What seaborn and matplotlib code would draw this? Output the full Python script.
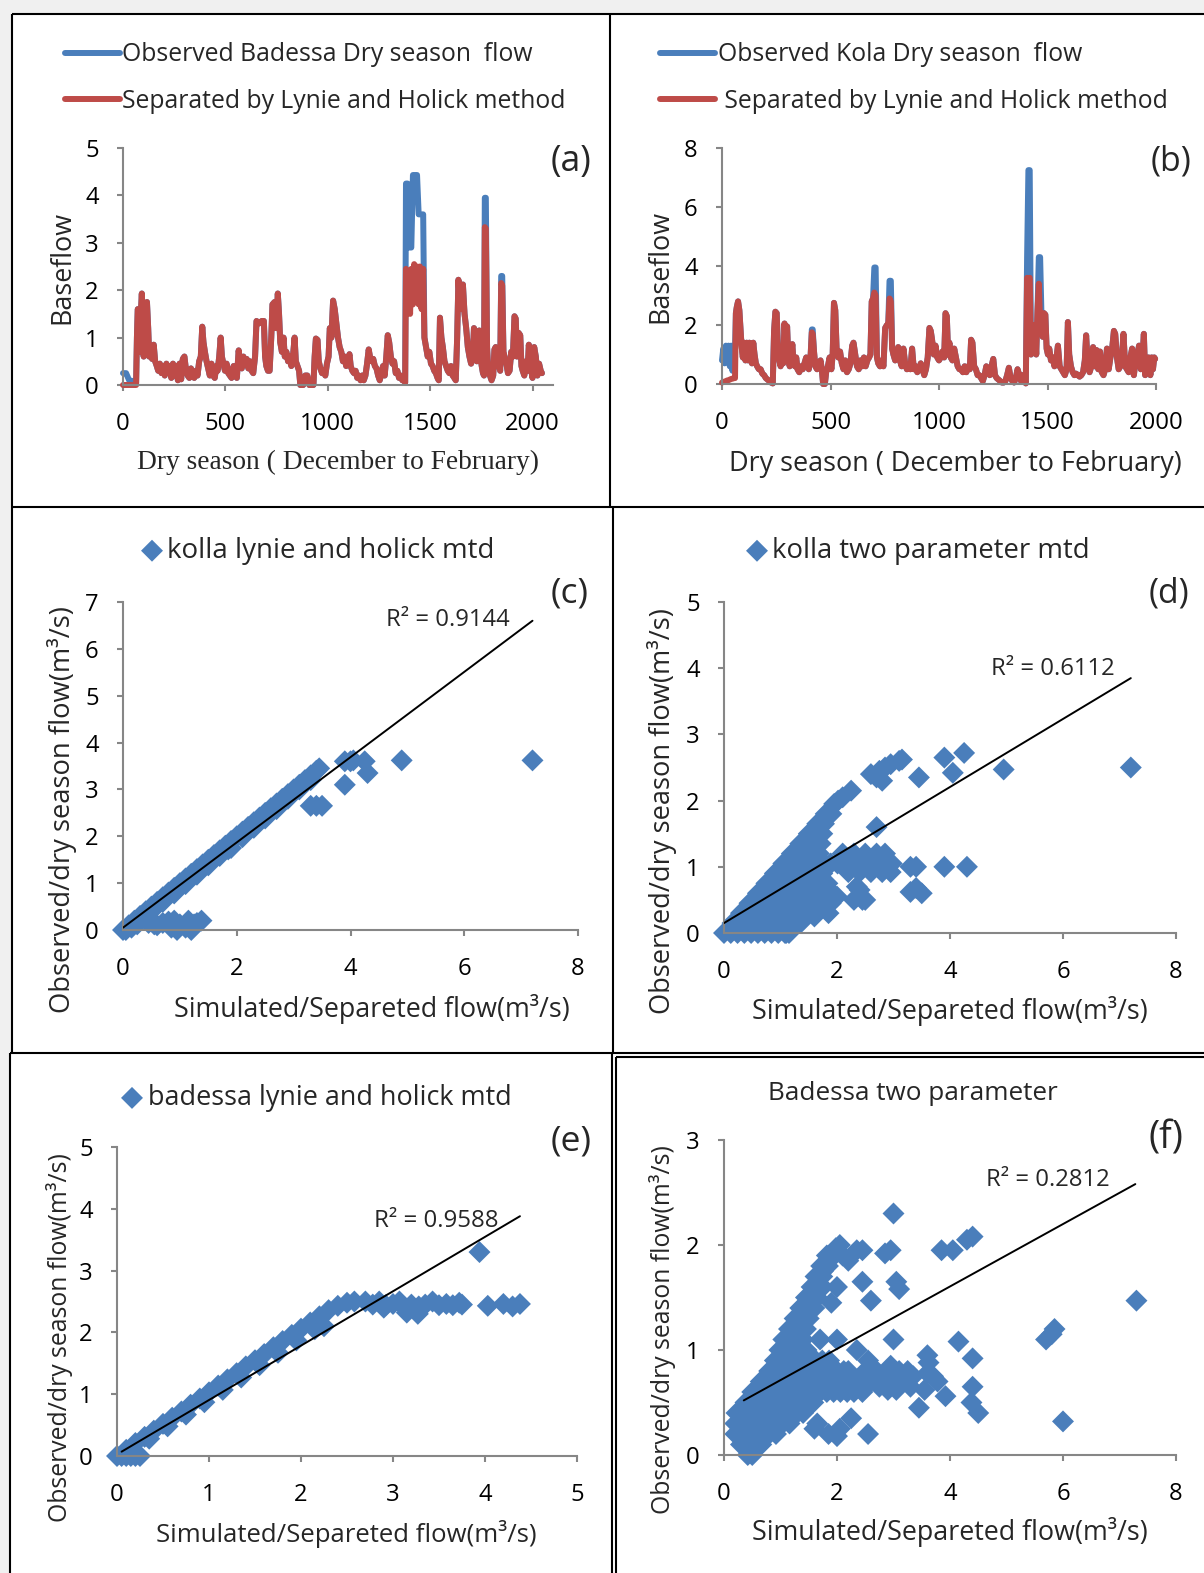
import matplotlib
matplotlib.use("Agg")
import matplotlib.pyplot as plt
import seaborn as sns
from matplotlib.lines import Line2D
from matplotlib.patches import Rectangle
from matplotlib.textpath import TextPath
from matplotlib.font_manager import FontProperties

W, H, DPI = 1204, 1573, 100
SANS = "Open Sans"
SERIF = "Liberation Serif"
BLUE = "#4A7EBB"
RED = "#BE4B48"
AXIS_GREY = "#868686"

# ---------------- (a) Badessa dry season flow ----------------
badessa_day = [
    0, 15, 30, 50, 64, 68, 72, 78, 82, 87,
    92, 97, 101, 106, 111, 117, 123, 128, 135, 142,
    150, 157, 165, 172, 180, 188, 196, 204, 212, 220,
    228, 236, 244, 252, 260, 268, 276, 284, 292, 300,
    308, 316, 324, 332, 340, 348, 356, 364, 372, 380,
    387, 393, 400, 408, 416, 424, 432, 440, 448, 456,
    462, 470, 477, 483, 490, 498, 506, 514, 522, 530,
    540, 548, 556, 565, 572, 580, 588, 596, 604, 612,
    620, 628, 636, 645, 652, 665, 678, 688, 694, 700,
    708, 716, 724, 730, 740, 748, 756, 762, 768, 776,
    784, 790, 798, 806, 814, 822, 830, 838, 844, 852,
    860, 866, 880, 890, 900, 910, 930, 936, 942, 950,
    956, 964, 972, 980, 988, 996, 1004, 1010, 1018, 1026,
    1034, 1042, 1050, 1058, 1066, 1074, 1082, 1090, 1098, 1106,
    1112, 1120, 1128, 1136, 1144, 1152, 1160, 1168, 1176, 1184,
    1192, 1200, 1206, 1214, 1222, 1230, 1238, 1246, 1254, 1262,
    1270, 1278, 1286, 1293, 1300, 1308, 1316, 1324, 1332, 1340,
    1348, 1356, 1364, 1372, 1378, 1382, 1390, 1396, 1402, 1408,
    1416, 1422, 1430, 1436, 1444, 1450, 1458, 1466, 1472, 1480,
    1488, 1496, 1504, 1512, 1520, 1528, 1536, 1542, 1548, 1555,
    1562, 1570, 1578, 1586, 1594, 1602, 1610, 1618, 1625, 1632,
    1638, 1646, 1653, 1660, 1668, 1676, 1684, 1692, 1700, 1708,
    1714, 1720, 1728, 1734, 1740, 1746, 1752, 1758, 1763, 1767,
    1772, 1778, 1784, 1792, 1800, 1808, 1814, 1820, 1828, 1836,
    1842, 1847, 1852, 1858, 1866, 1874, 1880, 1888, 1896, 1904,
    1912, 1918, 1924, 1932, 1940, 1946, 1952, 1960, 1968, 1976,
    1982, 1988, 1994, 2000, 2008, 2016, 2024, 2032, 2040, 2046,
]
badessa_separated = [
    0.0, 0.0, 0.0, 0.0, 0.0, 1.0, 1.6, 1.55, 0.7, 1.5,
    1.93, 1.2, 0.6, 1.7, 0.7, 1.75, 1.2, 0.6, 0.65, 0.55,
    0.85, 0.5, 0.4, 0.3, 0.45, 0.25, 0.4, 0.2, 0.45, 0.25,
    0.4, 0.15, 0.45, 0.2, 0.4, 0.1, 0.45, 0.12, 0.55, 0.6,
    0.3, 0.2, 0.15, 0.35, 0.2, 0.15, 0.3, 0.2, 0.5, 0.6,
    1.23, 0.9, 0.7, 0.5, 0.35, 0.2, 0.45, 0.2, 0.15, 0.4,
    0.3, 0.6, 1.0, 0.6, 0.45, 0.3, 0.45, 0.25, 0.2, 0.15,
    0.4, 0.2, 0.15, 0.73, 0.45, 0.35, 0.6, 0.45, 0.55, 0.35,
    0.5, 0.3, 0.25, 0.6, 1.35, 1.3, 1.35, 1.35, 0.6, 0.4,
    0.3, 0.3, 1.0, 1.7, 1.75, 1.2, 1.93, 1.5, 0.9, 0.7,
    1.0, 0.6, 0.7, 0.5, 0.6, 0.4, 0.6, 1.0, 0.5, 0.4,
    0.3, 0.0, 0.0, 0.2, 0.2, 0.0, 0.0, 0.6, 0.98, 0.95,
    0.5, 0.35, 0.25, 0.3, 0.2, 0.45, 0.6, 1.2, 1.0, 1.78,
    1.6, 1.3, 1.0, 0.8, 0.7, 0.5, 0.6, 0.4, 0.5, 0.65,
    0.4, 0.3, 0.25, 0.3, 0.15, 0.2, 0.1, 0.2, 0.1, 0.2,
    0.45, 0.75, 0.6, 0.5, 0.55, 0.4, 0.35, 0.2, 0.1, 0.25,
    0.4, 0.2, 0.6, 1.05, 0.9, 0.6, 0.45, 0.5, 0.25, 0.3,
    0.15, 0.2, 0.1, 0.15, 0.05, 2.45, 1.6, 2.4, 1.5, 2.45,
    1.7, 2.55, 1.8, 2.5, 1.7, 2.5, 1.6, 2.45, 1.0, 0.8,
    0.6, 0.7, 0.45, 0.4, 0.3, 0.25, 0.15, 0.1, 1.42, 1.0,
    0.8, 0.5, 0.4, 0.3, 0.25, 0.4, 0.2, 0.15, 0.1, 1.0,
    2.22, 1.7, 1.6, 2.12, 1.5, 1.2, 0.8, 0.6, 0.45, 0.6,
    1.2, 1.1, 0.5, 0.7, 1.15, 0.6, 0.4, 0.25, 0.2, 3.33,
    3.3, 0.8, 0.3, 0.2, 0.1, 0.2, 0.75, 0.8, 0.6, 0.4,
    0.3, 2.15, 2.1, 0.7, 0.55, 0.4, 0.25, 0.3, 0.7, 0.6,
    1.45, 1.4, 0.6, 1.1, 1.05, 0.4, 0.3, 0.2, 0.5, 0.3,
    0.85, 0.5, 0.3, 0.15, 0.8, 0.6, 0.2, 0.45, 0.3, 0.25,
]
badessa_observed = [
    0.25, 0.25, 0.1, 0.08, 0.05, 1.0, 1.6, 1.55, 0.7, 1.5,
    1.93, 1.2, 0.6, 1.7, 0.7, 1.75, 1.2, 0.6, 0.65, 0.55,
    0.85, 0.5, 0.4, 0.3, 0.45, 0.25, 0.4, 0.2, 0.45, 0.25,
    0.4, 0.15, 0.45, 0.2, 0.4, 0.1, 0.45, 0.12, 0.55, 0.6,
    0.3, 0.2, 0.15, 0.35, 0.2, 0.15, 0.3, 0.2, 0.5, 0.6,
    1.23, 0.9, 0.7, 0.5, 0.35, 0.2, 0.45, 0.2, 0.15, 0.4,
    0.3, 0.6, 1.0, 0.6, 0.45, 0.3, 0.45, 0.25, 0.2, 0.15,
    0.4, 0.2, 0.15, 0.73, 0.45, 0.35, 0.6, 0.45, 0.55, 0.35,
    0.5, 0.3, 0.25, 0.6, 1.35, 1.3, 1.35, 1.35, 0.6, 0.4,
    0.3, 0.3, 1.0, 1.7, 1.75, 1.2, 1.93, 1.5, 0.9, 0.7,
    1.0, 0.6, 0.7, 0.5, 0.6, 0.4, 0.6, 1.0, 0.5, 0.4,
    0.3, 0.0, 0.0, 0.2, 0.2, 0.0, 0.0, 0.6, 0.98, 0.95,
    0.5, 0.35, 0.25, 0.3, 0.2, 0.45, 0.6, 1.2, 1.0, 1.78,
    1.6, 1.3, 1.0, 0.8, 0.7, 0.5, 0.6, 0.4, 0.5, 0.65,
    0.4, 0.3, 0.25, 0.3, 0.15, 0.2, 0.1, 0.2, 0.1, 0.2,
    0.45, 0.75, 0.6, 0.5, 0.55, 0.4, 0.35, 0.2, 0.1, 0.25,
    0.4, 0.2, 0.6, 1.05, 0.9, 0.6, 0.45, 0.5, 0.25, 0.3,
    0.15, 0.2, 0.1, 0.15, 0.05, 4.25, 4.25, 2.9, 2.9, 2.9,
    4.43, 4.43, 4.43, 4.43, 3.6, 3.6, 3.6, 3.6, 1.0, 0.8,
    0.6, 0.7, 0.45, 0.4, 0.3, 0.25, 0.15, 0.1, 1.42, 1.0,
    0.8, 0.5, 0.4, 0.3, 0.25, 0.4, 0.2, 0.15, 0.1, 1.0,
    2.22, 1.7, 1.6, 2.12, 1.5, 1.2, 0.8, 0.6, 0.45, 0.6,
    1.2, 1.1, 0.5, 0.7, 1.15, 0.6, 0.4, 0.25, 0.2, 3.95,
    3.95, 0.8, 0.3, 0.2, 0.1, 0.2, 0.75, 0.8, 0.6, 0.4,
    0.3, 2.3, 2.3, 0.7, 0.55, 0.4, 0.25, 0.3, 0.7, 0.6,
    1.45, 1.4, 0.6, 1.1, 1.05, 0.4, 0.3, 0.2, 0.5, 0.3,
    0.85, 0.5, 0.3, 0.15, 0.8, 0.6, 0.2, 0.45, 0.3, 0.25,
]

# ---------------- (b) Kola dry season flow ----------------
kola_day = [
    0, 6, 12, 18, 24, 30, 36, 42, 48, 54,
    60, 64, 68, 74, 80, 86, 90, 96, 102, 108,
    114, 120, 126, 132, 138, 144, 150, 156, 162, 170,
    178, 186, 194, 202, 210, 218, 226, 234, 240, 246,
    252, 258, 264, 270, 276, 282, 288, 294, 300, 306,
    312, 318, 324, 330, 336, 342, 348, 356, 364, 372,
    380, 388, 394, 400, 408, 414, 418, 424, 430, 438,
    446, 454, 460, 466, 474, 480, 488, 496, 504, 510,
    516, 522, 528, 536, 544, 552, 560, 568, 576, 584,
    592, 600, 606, 614, 622, 630, 638, 646, 654, 662,
    670, 678, 684, 690, 696, 702, 708, 714, 720, 728,
    736, 744, 752, 760, 766, 772, 778, 784, 790, 798,
    806, 812, 820, 828, 836, 844, 852, 860, 868, 876,
    884, 892, 900, 908, 916, 924, 932, 940, 948, 956,
    962, 968, 976, 984, 992, 1000, 1008, 1016, 1024, 1030,
    1036, 1042, 1048, 1054, 1062, 1070, 1078, 1086, 1094, 1102,
    1110, 1118, 1126, 1134, 1142, 1148, 1154, 1162, 1170, 1178,
    1186, 1194, 1202, 1210, 1218, 1226, 1234, 1242, 1250, 1258,
    1266, 1274, 1282, 1290, 1298, 1306, 1314, 1322, 1330, 1338,
    1346, 1354, 1362, 1370, 1378, 1386, 1394, 1400, 1406, 1412,
    1418, 1424, 1430, 1436, 1442, 1448, 1454, 1460, 1466, 1472,
    1478, 1484, 1490, 1496, 1502, 1508, 1516, 1524, 1532, 1540,
    1548, 1556, 1564, 1572, 1580, 1588, 1594, 1600, 1608, 1616,
    1624, 1632, 1640, 1648, 1656, 1664, 1672, 1678, 1686, 1694,
    1702, 1710, 1718, 1726, 1734, 1742, 1750, 1758, 1766, 1774,
    1782, 1790, 1798, 1806, 1812, 1820, 1828, 1836, 1844, 1850,
    1858, 1866, 1874, 1882, 1890, 1898, 1906, 1914, 1922, 1930,
    1938, 1944, 1950, 1958, 1966, 1974, 1980, 1986, 1992, 1996,
]
kola_separated = [
    0.05, 0.07, 0.08, 0.1, 0.12, 0.13, 0.15, 0.17, 0.18, 0.2,
    0.2, 2.4, 2.6, 2.8, 2.5, 1.8, 1.3, 0.9, 1.4, 0.8,
    1.4, 0.8, 1.4, 0.9, 0.7, 1.4, 1.0, 0.7, 0.6, 0.5,
    0.5, 0.35, 0.3, 0.2, 0.15, 0.1, 0.05, 0.02, 1.8, 2.45,
    2.4, 1.2, 0.8, 0.6, 1.0, 0.7, 2.05, 1.2, 1.95, 0.8,
    0.6, 0.9, 1.35, 0.7, 0.6, 0.9, 0.5, 0.4, 0.6, 0.5,
    0.7, 0.9, 0.6, 0.5, 0.9, 1.75, 1.7, 1.1, 0.6, 0.5,
    0.6, 0.8, 0.5, 0.0, 0.0, 0.4, 0.6, 0.9, 0.5, 1.0,
    2.75, 2.5, 1.2, 0.9, 1.1, 0.7, 0.5, 0.8, 0.4, 0.5,
    0.7, 1.3, 1.4, 1.0, 0.6, 0.5, 0.8, 0.6, 0.9, 0.6,
    0.8, 0.9, 1.0, 2.8, 2.9, 3.1, 3.0, 0.9, 0.7, 0.6,
    0.8, 0.6, 1.9, 2.0, 2.0, 2.9, 2.8, 1.2, 1.0, 0.8,
    0.9, 1.25, 0.8, 0.6, 1.2, 0.7, 0.5, 0.6, 0.5, 1.2,
    0.5, 0.6, 0.4, 0.5, 0.7, 0.5, 0.3, 0.5, 0.9, 1.9,
    1.8, 1.5, 1.0, 1.3, 0.9, 0.8, 0.9, 1.1, 0.9, 2.4,
    2.3, 1.0, 1.4, 0.9, 0.8, 1.2, 0.9, 0.6, 0.5, 0.5,
    0.4, 0.6, 0.4, 0.6, 0.5, 1.5, 1.4, 0.6, 0.5, 0.3,
    0.3, 0.2, 0.1, 0.3, 0.6, 0.4, 0.3, 0.6, 0.85, 0.3,
    0.2, 0.15, 0.1, 0.05, 0.05, 0.1, 0.3, 0.55, 0.2, 0.1,
    0.05, 0.2, 0.5, 0.3, 0.1, 0.3, 0.1, 0.02, 3.6, 3.5,
    3.6, 1.0, 1.5, 1.2, 2.0, 1.0, 2.5, 3.4, 2.0, 2.4,
    1.6, 2.4, 2.35, 1.2, 1.0, 1.2, 0.8, 0.9, 0.6, 0.8,
    1.3, 0.6, 0.5, 0.4, 0.3, 0.5, 2.1, 1.0, 0.6, 0.4,
    0.3, 0.35, 0.3, 0.25, 0.3, 0.4, 0.8, 1.65, 0.6, 0.4,
    0.6, 1.25, 0.6, 1.15, 0.5, 1.1, 0.4, 0.3, 0.5, 1.2,
    0.5, 0.9, 1.2, 1.8, 1.7, 0.9, 0.5, 0.6, 1.0, 1.7,
    0.6, 0.5, 0.4, 0.9, 1.2, 0.3, 0.8, 1.0, 1.3, 0.5,
    0.9, 1.7, 0.3, 0.5, 0.9, 0.3, 0.9, 0.5, 0.9, 0.85,
]
kola_observed = [
    0.8, 1.2, 0.7, 1.3, 0.9, 1.3, 0.6, 1.3, 0.45, 1.2,
    1.2, 2.4, 2.6, 2.8, 2.5, 1.8, 1.3, 0.9, 1.4, 0.8,
    1.4, 0.8, 1.4, 0.9, 0.7, 1.4, 1.0, 0.7, 0.6, 0.5,
    0.5, 0.35, 0.3, 0.2, 0.15, 0.1, 0.05, 0.02, 1.8, 2.45,
    2.4, 1.2, 0.8, 0.6, 1.0, 0.7, 2.05, 1.2, 1.95, 0.8,
    0.6, 0.9, 1.35, 0.7, 0.6, 0.9, 0.5, 0.4, 0.6, 0.5,
    0.7, 0.9, 0.6, 0.5, 0.9, 1.85, 1.85, 1.1, 0.6, 0.5,
    0.6, 0.8, 0.5, 0.0, 0.0, 0.4, 0.6, 0.9, 0.5, 1.0,
    2.75, 2.5, 1.2, 0.9, 1.1, 0.7, 0.5, 0.8, 0.4, 0.5,
    0.7, 1.3, 1.4, 1.0, 0.6, 0.5, 0.8, 0.6, 0.9, 0.6,
    0.8, 0.9, 1.0, 2.8, 2.9, 3.95, 3.95, 0.9, 0.7, 0.6,
    0.8, 0.6, 1.9, 2.0, 2.0, 3.5, 3.5, 1.2, 1.0, 0.8,
    0.9, 1.25, 0.8, 0.6, 1.2, 0.7, 0.5, 0.6, 0.5, 1.2,
    0.5, 0.6, 0.4, 0.5, 0.7, 0.5, 0.3, 0.5, 0.9, 1.9,
    1.8, 1.5, 1.0, 1.3, 0.9, 0.8, 0.9, 1.1, 0.9, 2.4,
    2.3, 1.0, 1.4, 0.9, 0.8, 1.2, 0.9, 0.6, 0.5, 0.5,
    0.4, 0.6, 0.4, 0.6, 0.5, 1.5, 1.4, 0.6, 0.5, 0.3,
    0.3, 0.2, 0.1, 0.3, 0.6, 0.4, 0.3, 0.6, 0.85, 0.3,
    0.2, 0.15, 0.1, 0.05, 0.05, 0.1, 0.3, 0.55, 0.2, 0.1,
    0.05, 0.2, 0.5, 0.3, 0.1, 0.3, 0.1, 0.02, 4.3, 7.25,
    7.25, 1.0, 1.5, 1.2, 2.0, 1.0, 2.5, 4.3, 4.3, 2.4,
    1.6, 2.4, 2.35, 1.2, 1.0, 1.2, 0.8, 0.9, 0.6, 0.8,
    1.3, 0.6, 0.5, 0.4, 0.3, 0.5, 2.1, 1.0, 0.6, 0.4,
    0.3, 0.35, 0.3, 0.25, 0.3, 0.4, 0.8, 1.65, 0.6, 0.4,
    0.6, 1.25, 0.6, 1.15, 0.5, 1.1, 0.4, 0.3, 0.5, 1.2,
    0.5, 0.9, 1.2, 1.8, 1.7, 0.9, 0.5, 0.6, 1.0, 1.7,
    0.6, 0.5, 0.4, 0.9, 1.2, 0.3, 0.8, 1.0, 1.3, 0.5,
    0.9, 1.7, 0.3, 0.5, 0.9, 0.3, 0.9, 0.5, 0.9, 0.85,
]

# ---------------- (c) kolla, Lynie and Holick ----------------
kolla_lh_x = [
    0.0, 0.1, 0.2, 0.3, 0.4, 0.5, 0.6, 0.7, 0.8, 0.9, 1.0, 1.1,
    1.2, 1.3, 1.4, 1.5, 1.6, 1.7, 1.8, 1.9, 2.0, 2.1, 2.2, 2.3,
    2.4, 2.5, 2.6, 2.7, 2.8, 2.9, 3.0, 3.1, 3.2, 3.3, 3.4, 3.45,
    0.5, 0.7, 0.9, 1.1, 1.3, 1.5, 1.7, 1.85, 1.9, 2.1, 2.3, 2.5,
    2.7, 2.9, 3.1, 3.3,
    0.05, 0.15, 0.25,
    0.45, 0.55, 0.6, 0.7, 0.8, 0.85, 0.9, 0.95, 1.0, 1.1, 1.15, 1.2,
    1.25, 1.3, 1.38,
    3.3, 3.4, 3.5, 3.9, 3.9, 4.0, 4.05, 4.25, 4.3, 4.9, 7.2,
]
kolla_lh_y = [
    0.0, 0.1, 0.2, 0.3, 0.4, 0.5, 0.6, 0.7, 0.8, 0.9, 1.0, 1.1,
    1.2, 1.3, 1.4, 1.5, 1.6, 1.7, 1.8, 1.9, 2.0, 2.1, 2.2, 2.3,
    2.4, 2.5, 2.6, 2.7, 2.8, 2.9, 3.0, 3.1, 3.2, 3.3, 3.4, 3.45,
    0.4, 0.6, 0.78, 0.98, 1.18, 1.38, 1.58, 1.72, 1.75, 1.98, 2.18, 2.38,
    2.58, 2.8, 3.0, 3.2,
    0.0, 0.05, 0.12,
    0.15, 0.12, 0.1, 0.15, 0.18, 0.05, 0.2, 0.0, 0.12, 0.05, 0.2, 0.0,
    0.12, 0.15, 0.2,
    2.65, 2.65, 2.65, 3.1, 3.6, 3.6, 3.62, 3.6, 3.35, 3.62, 3.62,
]
kolla_lh_trend_x = [0.0, 7.2]
kolla_lh_trend_y = [0.05, 6.6]

# ---------------- (d) kolla, two parameter ----------------
kolla_tp_x = [
    0.0, 0.12, 0.24, 0.36, 0.48, 0.6, 0.72, 0.84, 0.96, 1.08, 1.15,
    0.15, 0.27, 0.39, 0.51, 0.63, 0.75, 0.87, 0.99, 1.11, 1.23, 1.35,
    0.3, 0.42, 0.54, 0.66, 0.78, 0.9, 1.02, 1.14, 1.26, 1.38, 1.5, 1.6,
    0.45, 0.57, 0.69, 0.81, 0.93, 1.05, 1.17, 1.29, 1.41, 1.53, 1.65, 1.77, 1.89,
    0.6, 0.72, 0.84, 0.96, 1.08, 1.2, 1.32, 1.44, 1.56, 1.68, 1.8, 1.92,
    0.75, 0.87, 0.99, 1.11, 1.23, 1.35, 1.47, 1.59, 1.71, 1.83,
    0.9, 1.02, 1.14, 1.26, 1.38, 1.5, 1.62, 1.74,
    1.05, 1.17, 1.29, 1.41, 1.53, 1.65, 1.77, 1.89, 2.01, 2.13, 2.25, 2.37,
    2.49, 2.61, 2.73, 2.85, 2.97,
    1.2, 1.32, 1.44, 1.56, 1.68, 2.1, 2.3, 2.5, 2.7, 2.85,
    1.35, 1.47, 1.59, 1.71,
    1.5, 1.62, 1.74,
    1.65, 1.77,
    1.8, 1.9,
    1.95, 2.02,
    2.2, 2.4, 2.6, 2.8, 2.95,
    2.0, 2.3, 2.45, 2.4,
    2.1, 2.25, 2.6, 2.7, 2.75, 2.8, 2.85, 2.95, 3.1, 3.15, 3.45, 3.9, 4.05,
    4.25, 4.95, 7.2, 2.7, 3.3, 3.4, 3.9, 4.3, 3.3, 3.4, 3.5, 1.6, 1.85,
    1.1, 0.85, 2.5, 2.35,
]
kolla_tp_y = [
    0.0, 0.0, 0.0, 0.0, 0.0, 0.0, 0.0, 0.0, 0.0, 0.0, 0.0,
    0.15, 0.15, 0.15, 0.15, 0.15, 0.15, 0.15, 0.15, 0.15, 0.15, 0.15,
    0.3, 0.3, 0.3, 0.3, 0.3, 0.3, 0.3, 0.3, 0.3, 0.3, 0.3, 0.3,
    0.45, 0.45, 0.45, 0.45, 0.45, 0.45, 0.45, 0.45, 0.45, 0.45, 0.45, 0.45, 0.45,
    0.6, 0.6, 0.6, 0.6, 0.6, 0.6, 0.6, 0.6, 0.6, 0.6, 0.6, 0.6,
    0.75, 0.75, 0.75, 0.75, 0.75, 0.75, 0.75, 0.75, 0.75, 0.75,
    0.9, 0.9, 0.9, 0.9, 0.9, 0.9, 0.9, 0.9,
    1.05, 1.05, 1.05, 1.05, 1.05, 1.05, 1.05, 1.05, 1.05, 1.05, 1.05, 1.05,
    1.05, 1.05, 1.05, 1.05, 1.05,
    1.2, 1.2, 1.2, 1.2, 1.2, 1.2, 1.2, 1.2, 1.2, 1.2,
    1.35, 1.35, 1.35, 1.35,
    1.5, 1.5, 1.5,
    1.65, 1.65,
    1.8, 1.8,
    1.95, 2.0,
    0.92, 0.92, 0.92, 0.92, 0.92,
    0.55, 0.5, 0.5, 0.65,
    2.05, 2.15, 2.4, 2.35, 2.45, 2.3, 2.5, 2.55, 2.6, 2.62, 2.35, 2.65, 2.42,
    2.72, 2.47, 2.5, 1.6, 1.0, 1.0, 1.0, 1.0, 0.62, 0.68, 0.6, 0.25, 0.3,
    0.0, 0.05, 0.5, 0.7,
]
kolla_tp_trend_x = [0.0, 7.2]
kolla_tp_trend_y = [0.15, 3.85]

# ---------------- (e) badessa, Lynie and Holick ----------------
badessa_lh_x = [
    0.0, 0.1, 0.2, 0.3, 0.4, 0.5, 0.6, 0.7, 0.8, 0.9, 1.0, 1.1,
    1.2, 1.3, 1.4, 1.5, 1.6, 1.7, 1.8, 1.9, 2.0, 2.1, 2.2, 2.3,
    0.15, 0.35, 0.55, 0.75, 0.95, 1.15, 1.35, 1.55, 1.75, 1.95, 2.15, 2.25,
    0.05, 0.1, 0.15, 0.2, 0.25, 0.08,
    2.4, 2.5, 2.58, 2.7, 2.78, 2.85, 2.92, 3.0, 3.07, 3.13, 3.2, 3.28,
    3.35, 3.43, 3.5, 3.58, 3.65, 3.72, 3.75, 3.15, 3.27, 2.9,
    3.94, 4.03, 4.2, 4.38, 4.3,
]
badessa_lh_y = [
    0.0, 0.1, 0.21, 0.31, 0.41, 0.52, 0.62, 0.72, 0.83, 0.93, 1.03, 1.14,
    1.24, 1.34, 1.45, 1.55, 1.65, 1.76, 1.86, 1.96, 2.06, 2.16, 2.26, 2.36,
    0.08, 0.28, 0.48, 0.67, 0.87, 1.07, 1.27, 1.47, 1.67, 1.87, 2.05, 2.1,
    0.0, 0.0, 0.0, 0.0, 0.0, 0.05,
    2.43, 2.48, 2.5, 2.5, 2.45, 2.5, 2.44, 2.46, 2.5, 2.4, 2.45, 2.42,
    2.45, 2.5, 2.44, 2.46, 2.44, 2.48, 2.45, 2.32, 2.3, 2.4,
    3.3, 2.43, 2.46, 2.46, 2.42,
]
badessa_lh_trend_x = [0.05, 4.38]
badessa_lh_trend_y = [0.07, 3.88]

# ---------------- (f) badessa, two parameter ----------------
badessa_tp_x = [
    0.42, 0.5,
    0.3, 0.42, 0.54, 0.66,
    0.2, 0.32, 0.44, 0.56, 0.68, 0.8, 0.92,
    0.2, 0.32, 0.44, 0.56, 0.68, 0.8, 0.92, 1.04, 1.16,
    0.22, 0.34, 0.46, 0.58, 0.7, 0.82, 0.94, 1.06, 1.18, 1.3, 1.4,
    0.38, 0.5, 0.62, 0.74, 0.86, 0.98, 1.1, 1.22, 1.34, 1.46, 1.58,
    0.5, 0.62, 0.74, 0.86, 0.98, 1.1, 1.22, 1.34, 1.46, 1.58, 1.7, 1.82,
    1.94, 2.06, 2.18, 2.3,
    0.65, 0.77, 0.89, 1.01, 1.13, 1.25, 1.37, 1.49, 1.61, 1.73, 1.85, 1.97,
    2.09, 2.21, 2.33,
    0.8, 0.92, 1.04, 1.16, 1.28, 1.4, 1.52, 1.64, 1.76, 1.88, 2.0, 2.12, 2.2,
    0.9, 1.02, 1.14, 1.26, 1.38, 1.5, 1.62, 1.74, 1.86,
    0.98, 1.1, 1.22, 1.34, 1.46,
    1.05, 1.17, 1.29, 1.4,
    1.15, 1.27, 1.39, 1.45,
    1.25, 1.37, 1.5,
    1.35, 1.47, 1.6,
    1.45, 1.57, 1.65,
    1.55, 1.67, 1.75,
    1.62, 1.74,
    1.72, 1.84,
    1.82, 1.95,
    1.98, 2.05,
    2.45, 2.5, 2.55, 2.6, 2.7, 2.75, 2.85, 2.9, 2.95, 3.0, 3.05, 3.1,
    3.2, 3.25, 3.3, 3.35,
    3.0, 1.75, 2.1, 2.2, 2.35, 2.45, 2.85, 2.95, 3.05, 3.1, 2.45, 2.6,
    1.9, 2.0, 3.85, 4.05, 4.3, 4.4, 7.3, 5.7, 5.8, 5.85, 6.0, 4.15,
    4.4, 3.6, 3.62, 2.0, 1.7, 2.35, 3.0, 3.92, 4.4, 4.38, 4.5, 3.45,
    2.55, 1.65, 1.85, 2.05, 2.25, 3.55, 3.7, 3.78, 3.6, 1.6, 2.0,
]
badessa_tp_y = [
    0.0, 0.0,
    0.1, 0.1, 0.1, 0.1,
    0.2, 0.2, 0.2, 0.2, 0.2, 0.2, 0.2,
    0.3, 0.3, 0.3, 0.3, 0.3, 0.3, 0.3, 0.3, 0.3,
    0.4, 0.4, 0.4, 0.4, 0.4, 0.4, 0.4, 0.4, 0.4, 0.4, 0.4,
    0.5, 0.5, 0.5, 0.5, 0.5, 0.5, 0.5, 0.5, 0.5, 0.5, 0.5,
    0.6, 0.6, 0.6, 0.6, 0.6, 0.6, 0.6, 0.6, 0.6, 0.6, 0.6, 0.6,
    0.6, 0.6, 0.6, 0.6,
    0.7, 0.7, 0.7, 0.7, 0.7, 0.7, 0.7, 0.7, 0.7, 0.7, 0.7, 0.7,
    0.7, 0.7, 0.7,
    0.8, 0.8, 0.8, 0.8, 0.8, 0.8, 0.8, 0.8, 0.8, 0.8, 0.8, 0.8, 0.8,
    0.9, 0.9, 0.9, 0.9, 0.9, 0.9, 0.9, 0.9, 0.9,
    1.0, 1.0, 1.0, 1.0, 1.0,
    1.1, 1.1, 1.1, 1.1,
    1.2, 1.2, 1.2, 1.2,
    1.3, 1.3, 1.3,
    1.4, 1.4, 1.4,
    1.5, 1.5, 1.5,
    1.6, 1.6, 1.6,
    1.7, 1.7,
    1.8, 1.8,
    1.9, 1.9,
    1.97, 2.0,
    0.6, 0.8, 0.9, 0.7, 0.8, 0.65, 0.75, 0.62, 0.85, 0.7, 0.62, 0.8,
    0.72, 0.8, 0.65, 0.75,
    2.3, 1.75, 1.9, 1.85, 1.95, 1.95, 1.92, 1.95, 1.65, 1.58, 1.65, 1.47,
    1.45, 1.6, 1.95, 1.95, 2.05, 2.08, 1.47, 1.1, 1.15, 1.2, 0.32, 1.08,
    0.92, 0.95, 0.88, 1.1, 1.1, 1.0, 1.1, 0.56, 0.65, 0.5, 0.4, 0.45,
    0.2, 0.3, 0.2, 0.25, 0.35, 0.62, 0.75, 0.7, 0.78, 0.25, 0.18,
]
badessa_tp_trend_x = [0.35, 7.28]
badessa_tp_trend_y = [0.52, 2.58]


def fx(px):
    return px / W


def fy(py):
    return 1 - py / H


def fit_size(text, width_px, family=SANS):
    """font size (pt) that makes `text` about width_px wide"""
    w = TextPath((0, 0), text, size=10, prop=FontProperties(family=family)).get_extents().width
    return 10 * width_px / (w * DPI / 72)


def put_text(fig, text, cx, cy, width_px, rotation=0, family=SANS):
    # va="center" sits a few px high for horizontal text, nudge it down
    if rotation == 0:
        cy += 4
    fig.text(fx(cx), fy(cy), text, ha="center", va="center", rotation=rotation,
             fontsize=fit_size(text, width_px, family), family=[family, "DejaVu Sans"])


def place_axes(fig, left, right, top, bottom):
    return fig.add_axes([fx(left), fy(bottom), (right - left) / W, (bottom - top) / H])


def style_axes(ax, xlim, ylim, xticks, yticks):
    ax.set_xlim(*xlim)
    ax.set_ylim(*ylim)
    ax.set_xticks(xticks)
    ax.set_yticks(yticks)
    ax.set_xlabel("")
    ax.set_ylabel("")
    ax.set_facecolor("none")
    sns.despine(ax=ax)
    for side in ("left", "bottom"):
        ax.spines[side].set_color(AXIS_GREY)
        ax.spines[side].set_linewidth(1.5)
    ax.tick_params(direction="out", length=4.5, width=1.5, color=AXIS_GREY,
                   labelsize=TICK_FS, labelcolor="black", pad=13)
    ax.tick_params(axis="x", pad=15)


def frame_line(fig, x0, y0, x1, y1):
    fig.add_artist(Line2D([fx(x0), fx(x1)], [fy(y0), fy(y1)], transform=fig.transFigure,
                          color="black", lw=1.5, solid_capstyle="butt"))


def line_legend(ax, fig, handle_left, handle_right, text_left, cy, fs, pitch_px):
    fs_px = fs * DPI / 72
    ax.legend(loc="center left", bbox_to_anchor=(fx(handle_left), fy(cy)),
              bbox_transform=fig.transFigure, frameon=False, fontsize=fs,
              handlelength=(handle_right - handle_left) / fs_px,
              handletextpad=(text_left - handle_right) / fs_px,
              labelspacing=(pitch_px - 1.0 * fs_px) / fs_px,
              borderpad=0, borderaxespad=0)


def marker_legend(ax, fig, marker_cx, text_left, cy, fs):
    fs_px = fs * DPI / 72
    hl = 0.6
    ax.legend(loc="center left", bbox_to_anchor=(fx(marker_cx - hl * fs_px / 2), fy(cy)),
              bbox_transform=fig.transFigure, frameon=False, fontsize=fs,
              handlelength=hl, handletextpad=(text_left - marker_cx) / fs_px - hl / 2,
              borderpad=0, borderaxespad=0, scatterpoints=1)


def flow_panel(fig, box, day, observed, separated, obs_label, sep_label, xlim, ylim, yticks):
    ax = place_axes(fig, *box)
    line_kw = dict(linewidth=4.3, estimator=None, sort=False, clip_on=False,
                   solid_joinstyle="round", solid_capstyle="round")
    sns.lineplot(x=day, y=observed, color=BLUE, label=obs_label, ax=ax, **line_kw)
    sns.lineplot(x=day, y=separated, color=RED, label=sep_label, ax=ax, **line_kw)
    style_axes(ax, xlim, ylim, [0, 500, 1000, 1500, 2000], yticks)
    return ax


def scatter_panel(fig, box, x, y, trend_x, trend_y, xlim, ylim, xticks, yticks, label=None):
    ax = place_axes(fig, *box)
    sns.scatterplot(x=x, y=y, marker="D", s=125, color=BLUE, edgecolor="none", linewidth=0,
                    clip_on=False, label=label, ax=ax)
    ax.plot(trend_x, trend_y, color="black", lw=1.4, zorder=3)
    style_axes(ax, xlim, ylim, xticks, yticks)
    return ax


for arr in (badessa_separated, badessa_observed):
    assert len(arr) == len(badessa_day)
for arr in (kola_separated, kola_observed):
    assert len(arr) == len(kola_day)
assert len(kolla_lh_x) == len(kolla_lh_y)
assert len(kolla_tp_x) == len(kolla_tp_y)
assert len(badessa_lh_x) == len(badessa_lh_y)
assert len(badessa_tp_x) == len(badessa_tp_y)

sns.set_theme(style="ticks")
plt.rcParams["font.family"] = [SANS, "DejaVu Sans"]
TICK_FS = fit_size("2000", 52)

fig = plt.figure(figsize=(W / DPI, H / DPI), dpi=DPI, facecolor="#F0F0F0")
fig.add_artist(Rectangle((fx(11), 0), 1 - fx(11), fy(14), transform=fig.transFigure,
                         facecolor="white", edgecolor="none", zorder=-5))

# panel frames
frame_line(fig, 12, 14, 1204, 14)
frame_line(fig, 12, 14, 12, 1053)
frame_line(fig, 10, 1053, 10, 1573)
frame_line(fig, 610, 14, 610, 507)
frame_line(fig, 12, 507, 1204, 507)
frame_line(fig, 613, 507, 613, 1053)
frame_line(fig, 10, 1053, 1204, 1053)
frame_line(fig, 612, 1053, 612, 1573)
frame_line(fig, 616, 1057, 616, 1573)
frame_line(fig, 616, 1057, 1204, 1057)

leg_fs = fit_size("Separated by Lynie and Holick method", 441)

# (a)
ax = flow_panel(fig, (123, 553, 148, 385), badessa_day, badessa_observed, badessa_separated,
                "Observed Badessa Dry season  flow", "Separated by Lynie and Holick method",
                (0, 2100), (0, 5), [0, 1, 2, 3, 4, 5])
line_legend(ax, fig, 65, 120, 122, 78, leg_fs, 46)
put_text(fig, "Baseflow", 62, 267, 110, rotation=90)
put_text(fig, "Dry season ( December to February)", 338, 458, 399, family=SERIF)
put_text(fig, "(a)", 571, 158, 38)

# (b)
ax = flow_panel(fig, (722, 1156, 148, 384), kola_day, kola_observed, kola_separated,
                "Observed Kola Dry season  flow", " Separated by Lynie and Holick method",
                (0, 2000), (0, 8), [0, 2, 4, 6, 8])
line_legend(ax, fig, 660, 715, 718, 78, leg_fs, 46)
put_text(fig, "Baseflow", 660, 266, 110, rotation=90)
put_text(fig, "Dry season ( December to February)", 955, 460, 449)
put_text(fig, "(b)", 1171, 158, 38)

# (c)
ax = scatter_panel(fig, (123, 578, 602, 930), kolla_lh_x, kolla_lh_y,
                   kolla_lh_trend_x, kolla_lh_trend_y, (0, 8), (0, 7),
                   [0, 2, 4, 6, 8], [0, 1, 2, 3, 4, 5, 6, 7], label="kolla lynie and holick mtd")
marker_legend(ax, fig, 152, 167, 551, fit_size("kolla lynie and holick mtd", 323))
put_text(fig, "R² = 0.9144", 448, 616, 121)
put_text(fig, "Observed/dry season flow(m³/s)", 62, 810, 405, rotation=90)
put_text(fig, "Simulated/Separeted flow(m³/s)", 372, 1005, 395)
put_text(fig, "(c)", 570, 590, 35)

# (d)
ax = scatter_panel(fig, (724, 1176, 602, 933), kolla_tp_x, kolla_tp_y,
                   kolla_tp_trend_x, kolla_tp_trend_y, (0, 8), (0, 5),
                   [0, 2, 4, 6, 8], [0, 1, 2, 3, 4, 5], label="kolla two parameter mtd")
marker_legend(ax, fig, 757, 772, 551, fit_size("kolla two parameter mtd", 313))
put_text(fig, "R² = 0.6112", 1053, 665, 120)
put_text(fig, "Observed/dry season flow(m³/s)", 662, 811, 402, rotation=90)
put_text(fig, "Simulated/Separeted flow(m³/s)", 950, 1007, 395)
put_text(fig, "(d)", 1169, 589, 38)

# (e)
ax = scatter_panel(fig, (117, 577, 1147, 1456), badessa_lh_x, badessa_lh_y,
                   badessa_lh_trend_x, badessa_lh_trend_y, (0, 5), (0, 5),
                   [0, 1, 2, 3, 4, 5], [0, 1, 2, 3, 4, 5], label="badessa lynie and holick mtd")
marker_legend(ax, fig, 132, 148, 1098, fit_size("badessa lynie and holick mtd", 359))
put_text(fig, "R² = 0.9588", 436, 1217, 121)
put_text(fig, "Observed/dry season flow(m³/s)", 60, 1338, 365, rotation=90)
put_text(fig, "Simulated/Separeted flow(m³/s)", 346, 1530, 378)
put_text(fig, "(e)", 571, 1137, 38)

# (f)
ax = scatter_panel(fig, (724, 1176, 1140, 1455), badessa_tp_x, badessa_tp_y,
                   badessa_tp_trend_x, badessa_tp_trend_y, (0, 8), (0, 3),
                   [0, 2, 4, 6, 8], [0, 1, 2, 3])
put_text(fig, "Badessa two parameter", 913, 1090, 287)
put_text(fig, "R² = 0.2812", 1048, 1176, 120)
put_text(fig, "Observed/dry season flow(m³/s)", 662, 1330, 365, rotation=90)
put_text(fig, "Simulated/Separeted flow(m³/s)", 950, 1528, 395)
put_text(fig, "(f)", 1166, 1134, 32)

fig.savefig("out.png", dpi=DPI, facecolor=fig.get_facecolor())
